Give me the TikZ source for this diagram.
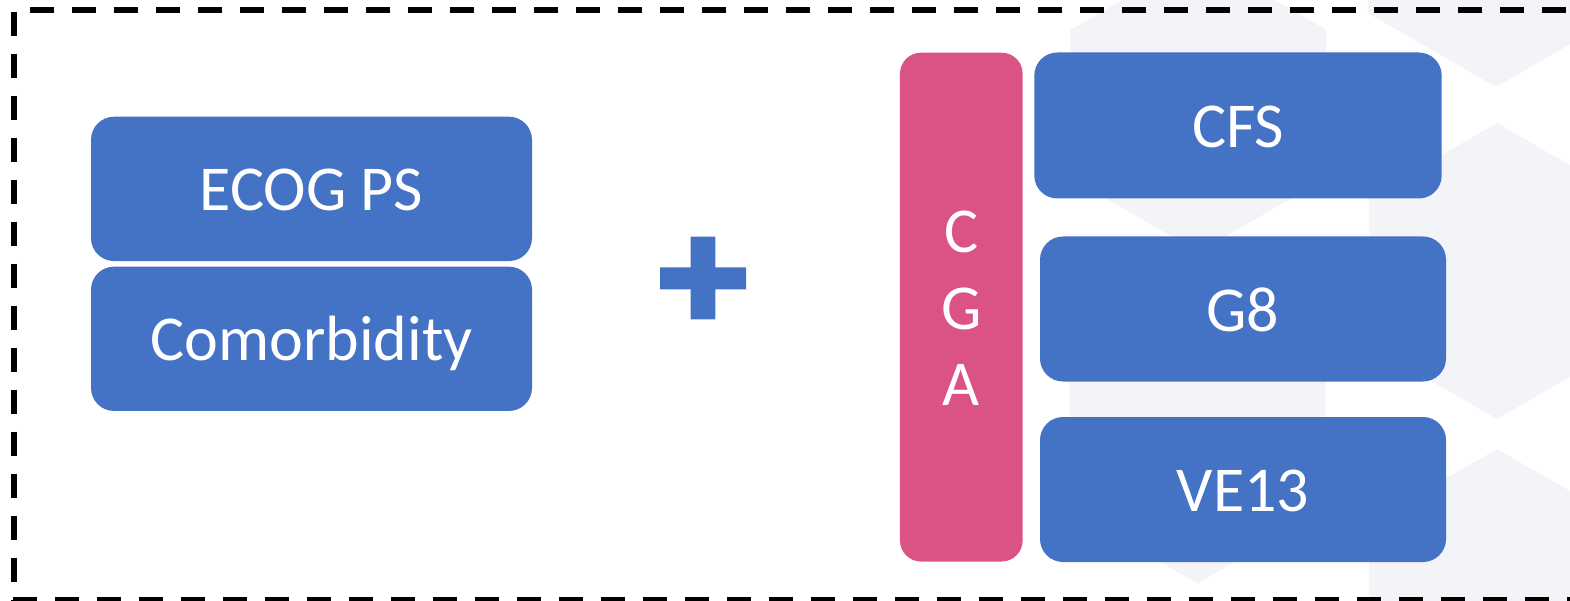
\documentclass[tikz,border=0pt]{standalone}
\usepackage{fontspec}
\setmainfont{Carlito}
\definecolor{boxblue}{HTML}{4472C4}
\definecolor{cgapink}{HTML}{DA5384}
\definecolor{hexgray}{RGB}{243,244,247}
\tikzset{
  hexbg/.style={fill=hexgray},
  bluebox/.style={fill=boxblue, rounded corners=23pt, inner sep=0pt,
    text=white, font=\fontsize{64}{76}\selectfont, text height=44pt, text depth=0pt},
  pinkbox/.style={fill=cgapink, rounded corners=21pt, inner sep=0pt},
  cgaletter/.style={text=white, font=\fontsize{64}{76}\selectfont, anchor=base, inner sep=0pt},
  plussign/.style={fill=boxblue},
  frame/.style={line width=5.5pt, dash pattern=on 24pt off 18pt}
}
\begin{document}
\begin{tikzpicture}[x=1pt,y=-1pt]
\useasboundingbox (0,0) rectangle (1570,601);
\begin{scope}
\clip (0,0) rectangle (1570,601);
% background hexagons
\foreach \cx/\cy in {1198.5/104, 1197.5/435.5, 1496/-61, 1497/271, 1497/597}{
  \fill[hexbg] (\cx,\cy) +(90:148) -- +(30:148) -- +(-30:148) -- +(-90:148) -- +(-150:148) -- +(150:148) -- cycle;
}
% dashed frame
\draw[frame, dash phase=26pt] (14,10) -- (1575,10);
\draw[frame] (14,11.7) -- (14,601);
\draw[frame] (13.3,599.3) -- (1575,599.3);
\end{scope}
% left boxes
\node[bluebox, minimum width=441pt, minimum height=144.3pt] (ecog) at (311.5,188.9) {ECOG PS};
\node[bluebox, minimum width=441pt, minimum height=144.3pt] (comorb) at (311.5,338.8) {Comorbidity};
% plus sign
\fill[plussign] (690.7,236.7) -- (715.3,236.7) -- (715.3,267.3) -- (746,267.3) -- (746,289.3)
  -- (715.3,289.3) -- (715.3,319.3) -- (690.7,319.3) -- (690.7,289.3) -- (660,289.3)
  -- (660,267.3) -- (690.7,267.3) -- cycle;
% CGA bar
\node[pinkbox, minimum width=122.7pt, minimum height=508.8pt] (cga) at (961.3,307.1) {};
\node[cgaletter] (cgaC) at (961.3,253) {C};
\node[cgaletter] (cgaG) at (961.3,329.5) {G};
\node[cgaletter] (cgaA) at (961.3,405) {A};
% right boxes
\node[bluebox, minimum width=407.4pt, minimum height=146pt] (cfs) at (1238,125.5) {CFS};
\node[bluebox, minimum width=406pt, minimum height=145pt] (g8) at (1243,309) {G8};
\node[bluebox, minimum width=406pt, minimum height=145pt] (ve13) at (1243,489.5) {VE13};
\end{tikzpicture}
\end{document}
